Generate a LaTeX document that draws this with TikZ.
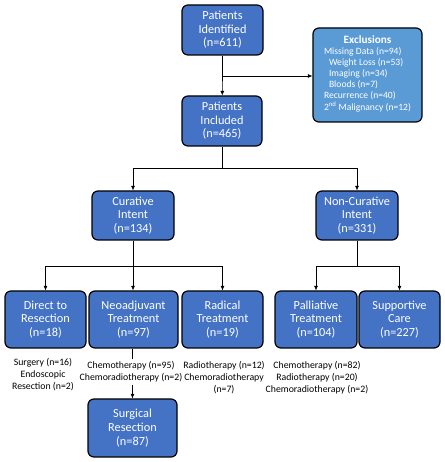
\documentclass[tikz,border=0pt]{standalone}
\usepackage{fontspec}
\setmainfont{Carlito}
\usetikzlibrary{arrows.meta}

\definecolor{boxblue}{HTML}{4472C4}
\definecolor{lightblue}{HTML}{5B9BD5}

\tikzset{
	bluebox/.style={draw=black, line width=1.2pt, rounded corners=6pt, fill=boxblue,
		text=white, align=center, inner sep=1pt,
		font=\fontsize{12.3}{13.6}\selectfont},
	note/.style={align=center, inner sep=2pt, font=\fontsize{9.8}{12}\selectfont},
	arr/.style={-{Latex[length=4.5pt,width=4pt]}, line width=0.6pt},
	link/.style={line width=0.6pt}
}

\begin{document}
\begin{tikzpicture}[x=1pt,y=1pt]

	\useasboundingbox (0,0) rectangle (444,462);

	% top of the chart
	\node[bluebox, minimum width=81pt, minimum height=50pt] (ident) at (222.5,432) {Patients\\Identified\\(n=611)};
	\node[bluebox, minimum width=80pt, minimum height=50pt] (incl) at (222,341) {Patients\\Included\\(n=465)};
	\node[bluebox, fill=lightblue, minimum width=109pt, minimum height=94pt, font=\fontsize{9.6}{11}\selectfont] (excl) at (367.5,387)
		{\begin{tabular}{@{}l@{}}
			\multicolumn{1}{@{}c@{}}{\textbf{\fontsize{11.2}{12}\selectfont Exclusions}}\\
			Missing Data (n=94)\\
			\hspace{5pt}Weight Loss (n=53)\\
			\hspace{5pt}Imaging (n=34)\\
			\hspace{5pt}Bloods (n=7)\\
			Recurrence (n=40)\\
			2\textsuperscript{nd} Malignancy (n=12)
		\end{tabular}};

	\coordinate (split) at (222.5,386);
	\draw[link] (ident) -- (split);
	\draw[arr] (split) -- (incl);
	\draw[arr] (split) -- (excl.west |- split);

	% intent
	\node[bluebox, minimum width=82pt, minimum height=49pt] (cur) at (133,246.5) {Curative\\Intent\\(n=134)};
	\node[bluebox, minimum width=82pt, minimum height=49pt] (noncur) at (357,246.5) {Non-Curative\\Intent\\(n=331)};

	\coordinate (fork) at (222,294);
	\draw[link] (incl) -- (fork);
	\draw[arr] (fork) -| (cur);
	\draw[arr] (fork) -| (noncur);

	% treatments
	\node[bluebox, minimum width=81pt, minimum height=57pt] (direct) at (45.5,142.5) {Direct to\\Resection\\(n=18)};
	\node[bluebox, minimum width=89pt, minimum height=57pt] (neo) at (133.5,142.5) {Neoadjuvant\\Treatment\\(n=97)};
	\node[bluebox, minimum width=81pt, minimum height=57pt] (radical) at (222.5,142.5) {Radical\\Treatment\\(n=19)};
	\node[bluebox, minimum width=82pt, minimum height=57pt] (pall) at (316,142.5) {Palliative\\Treatment\\(n=104)};
	\node[bluebox, minimum width=81pt, minimum height=57pt] (supp) at (399.5,142.5) {Supportive\\Care\\(n=227)};

	\coordinate (curfork) at (133,196);
	\coordinate (ncfork) at (357,196);
	\draw[link] (cur) -- (curfork);
	\draw[arr] (curfork) -| (direct);
	\draw[arr] (curfork) -- (neo.north -| curfork);
	\draw[arr] (curfork) -| (radical);
	\draw[link] (noncur) -- (ncfork);
	\draw[arr] (ncfork) -| (pall);
	\draw[arr] (ncfork) -| (supp);

	% details under the boxes
	\node[note] (directnote) at (43,87) {Surgery (n=16)\\Endoscopic\\Resection (n=2)};
	\node[note] (neonote) at (131,90) {Chemotherapy (n=95)\\Chemoradiotherapy (n=2)};
	\node[note] (radnote) at (224,84) {Radiotherapy (n=12)\\Chemoradiotherapy\\(n=7)};
	\node[note] (pallnote) at (317,84) {Chemotherapy (n=82)\\Radiotherapy (n=20)\\Chemoradiotherapy (n=2)};

	\node[bluebox, minimum width=89pt, minimum height=58pt] (surg) at (132.5,34) {Surgical\\Resection\\(n=87)};

	\draw[link] (neo.south -| surg) -- (neonote.north -| surg);
	\draw[arr] (neonote.south -| surg) -- (surg);

\end{tikzpicture}
\end{document}
